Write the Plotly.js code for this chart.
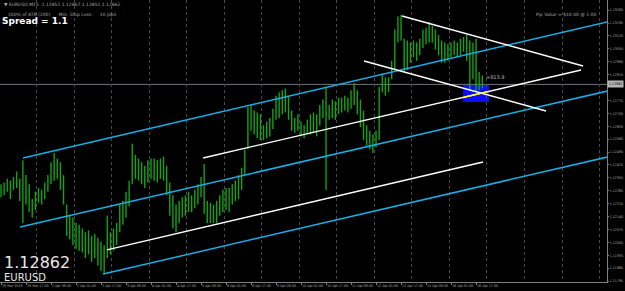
<!DOCTYPE html>
<html><head><meta charset="utf-8">
<script src="https://cdn.plot.ly/plotly-3.0.1.min.js"></script>
<style>html,body{margin:0;padding:0;background:#000;}#c{width:625px;height:291px;}</style>
</head><body><div id="c"></div>
<script>
// ---- data ----
const firstBarHour = 1;      // trading hours since 29 Mar 00:00
const barStepHours = 2;
const highs = [1.1232,1.1233,1.1235,1.1234,1.1236,1.1239,1.1235,1.1245,1.1237,1.1232,
1.1224,1.1228,1.1230,1.1229,1.1233,1.1237,1.1244,1.1249,1.1246,1.1244,
1.1237,1.1221,1.1215,1.1214,1.1211,1.1210,1.1208,1.1206,1.1207,1.1204,
1.1205,1.1203,1.1201,1.1199,1.1215,1.1206,1.1208,1.1211,1.1221,1.1223,
1.1228,1.1234,1.1254,1.1248,1.1246,1.1244,1.1242,1.1245,1.1246,1.1246,
1.1245,1.1246,1.1247,1.1242,1.1233,1.1226,1.1221,1.1223,1.1225,1.1226,
1.1228,1.1226,1.1229,1.1232,1.1236,1.1243,1.1223,1.1222,1.1221,1.1223,
1.1226,1.1229,1.1230,1.1230,1.1232,1.1234,1.1237,1.1241,1.1251,1.1274,
1.1275,1.1272,1.1271,1.1270,1.1264,1.1266,1.1268,1.1273,1.1280,1.1282,
1.1283,1.1284,1.1280,1.1272,1.1268,1.1270,1.1266,1.1264,1.1267,1.1270,
1.1271,1.1270,1.1275,1.1278,1.1285,1.1275,1.1278,1.1277,1.1279,1.1279,
1.1280,1.1279,1.1283,1.1287,1.1283,1.1278,1.1272,1.1264,1.1261,1.1259,
1.1261,1.1285,1.1292,1.1290,1.1290,1.1299,1.1316,1.1323,1.1324,1.1311,
1.1310,1.1309,1.1310,1.1309,1.1311,1.1316,1.1317,1.1320,1.1318,1.1316,
1.1313,1.1310,1.1309,1.1308,1.1309,1.1310,1.1309,1.1311,1.1312,1.1313,
1.1310,1.1309,1.1311,1.1293,1.1291];
const lows = [1.1225,1.1226,1.1228,1.1224,1.1229,1.1230,1.1223,1.1211,1.1221,1.1217,
1.1214,1.1218,1.1222,1.1221,1.1224,1.1228,1.1232,1.1234,1.1235,1.1229,
1.1221,1.1204,1.1202,1.1199,1.1197,1.1196,1.1195,1.1192,1.1194,1.1190,
1.1192,1.1188,1.1185,1.1184,1.1192,1.1194,1.1196,1.1199,1.1206,1.1210,
1.1214,1.1220,1.1232,1.1235,1.1234,1.1232,1.1230,1.1233,1.1235,1.1234,
1.1233,1.1235,1.1234,1.1226,1.1215,1.1208,1.1206,1.1211,1.1214,1.1215,
1.1217,1.1217,1.1219,1.1221,1.1225,1.1216,1.1211,1.1211,1.1211,1.1211,
1.1215,1.1217,1.1218,1.1217,1.1221,1.1223,1.1224,1.1229,1.1237,1.1251,
1.1261,1.1259,1.1257,1.1256,1.1256,1.1257,1.1258,1.1262,1.1267,1.1268,
1.1270,1.1271,1.1267,1.1261,1.1260,1.1261,1.1258,1.1257,1.1259,1.1259,
1.1260,1.1258,1.1264,1.1268,1.1229,1.1267,1.1268,1.1267,1.1270,1.1271,
1.1272,1.1271,1.1273,1.1275,1.1270,1.1263,1.1256,1.1253,1.1251,1.1249,
1.1252,1.1256,1.1282,1.1280,1.1282,1.1289,1.1294,1.1309,1.1310,1.1293,
1.1294,1.1298,1.1301,1.1299,1.1302,1.1306,1.1308,1.1309,1.1309,1.1305,
1.1302,1.1298,1.1298,1.1299,1.1301,1.1302,1.1301,1.1302,1.1304,1.1299,
1.1283,1.1289,1.1282,1.1283,1.1284];
const lastPrice = 1.12862;

const xTickHours = [1,17,33,49,65,81,97,113,129,145,161,177,193,209,225,241,257,273,289,305];
const xTickLabels = ["29 Mar 2019","29 Mar 17:00","1 Apr 09:00","2 Apr 01:00","2 Apr 17:00","3 Apr 09:00",
"4 Apr 01:00","4 Apr 17:00","5 Apr 09:00","8 Apr 01:00","8 Apr 17:00","9 Apr 09:00","10 Apr 01:00",
"10 Apr 17:00","11 Apr 09:00","12 Apr 01:00","12 Apr 17:00","15 Apr 09:00","16 Apr 01:00","16 Apr 17:00"];
const yTicks = [1.11795,1.11865,1.11935,1.12005,1.12075,1.12145,1.12215,1.12285,1.12355,1.12425,
1.12495,1.12565,1.12635,1.12705,1.12775,1.12915,1.12985,1.13055,1.13125,1.13195,1.13265];

// channel lines: [hour0, price0, hour1, price1]
const blueLines = [
  [15.1, 1.12463, 389, 1.13201],
  [13.2, 1.12088, 389, 1.12826],
  [66.3, 1.11833, 389, 1.12468]
];
const whiteLines = [
  [68.8, 1.11964, 309.5, 1.12441],
  [130.3, 1.12463, 372.2, 1.12940],
  [233.3, 1.12989, 349.8, 1.12718],
  [257.6, 1.13233, 373.5, 1.12962]
];
const yellowSeg = [296.7, 1.12791, 313.3, 1.12824];
const boxRange = [296.7, 313.3, 1.12767, 1.12859];
const boxLabel = "+813.9";

// ---- build ----
const bx = [], by = [];
for (let i = 0; i < highs.length; i++) {
  const h = firstBarHour + i * barStepHours;
  bx.push(h, h, null); by.push(lows[i], highs[i], null);
}
const traces = [{
  type: 'scatter', mode: 'lines', x: bx, y: by,
  line: {color: '#13a313', width: 1.4}, hoverinfo: 'skip', connectgaps: false
}];
function seg(s, color, w) {
  return {type: 'scatter', mode: 'lines', x: [s[0], s[2]], y: [s[1], s[3]],
    line: {color: color, width: w}, hoverinfo: 'skip'};
}
blueLines.forEach(s => traces.push(seg(s, '#1aaee8', 1.5)));
whiteLines.forEach(s => traces.push(seg(s, '#ffffff', 1.4)));
traces.push(seg(yellowSeg, '#ffff00', 1.4));

const grayTxt = '#a9a9a9';
const tickFont = {family: 'DejaVu Sans Condensed, Liberation Sans Narrow, DejaVu Sans', size: 3.6, color: grayTxt};
const layout = {
  width: 625, height: 291,
  margin: {l: 0, r: 18, t: 0, b: 9},
  paper_bgcolor: '#000', plot_bgcolor: '#000',
  showlegend: false,
  font: {family: 'DejaVu Sans', size: 4, color: grayTxt},
  xaxis: {
    range: [0.36, 388.8], showgrid: false, zeroline: false,
    tickmode: 'array', tickvals: xTickHours, ticktext: xTickLabels, tickangle: 0,
    ticklabelposition: 'outside right', ticks: 'outside', ticklen: 2, tickcolor: '#808080',
    tickfont: tickFont,
    showline: true, linecolor: '#808080', linewidth: 1,
    minor: {tick0: 0, dtick: 24, showgrid: true, gridcolor: '#484848', griddash: 'dot', gridwidth: 1, ticks: ''}
  },
  yaxis: {
    range: [1.11790, 1.13320], side: 'right', showgrid: false, zeroline: false,
    tickmode: 'array', tickvals: yTicks, tickformat: '.5f',
    ticks: 'outside', ticklen: 1, tickcolor: '#808080',
    tickfont: tickFont,
    showline: true, linecolor: '#808080', linewidth: 1
  },
  shapes: [
    {type: 'rect', xref: 'x', yref: 'y', x0: boxRange[0], x1: boxRange[1], y0: boxRange[2], y1: boxRange[3],
     fillcolor: '#0d0dff', line: {width: 0}, layer: 'below'},
    {type: 'line', xref: 'paper', yref: 'y', x0: 0, x1: 1, y0: lastPrice, y1: lastPrice,
     line: {color: '#6b7680', width: 1}, layer: 'below'}
  ],
  annotations: [
    {xref: 'paper', yref: 'paper', x: 0.003, y: 0.985, xanchor: 'left', yanchor: 'middle', showarrow: false,
     text: '▼ EURUSD,M15  1.12851 1.12867 1.12851 1.12862', font: {size: 4.5, color: grayTxt}},
    {xref: 'paper', yref: 'paper', x: 0.01, y: 0.95, xanchor: 'left', yanchor: 'middle', showarrow: false,
     text: '100% of ATR (200)      Min. Stop Loss:     10 pips', font: {size: 4.5, color: grayTxt}},
    {xref: 'paper', yref: 'paper', x: 0.0, y: 0.925, xanchor: 'left', yanchor: 'middle', showarrow: false,
     text: '<b>Spread = 1.1</b>', font: {size: 9, color: '#ffffff'}},
    {xref: 'paper', yref: 'paper', x: 0.985, y: 0.95, xanchor: 'right', yanchor: 'middle', showarrow: false,
     text: 'Pip Value = $10.00 @ 1.00', font: {size: 4.5, color: grayTxt}},
    {xref: 'x', yref: 'y', x: 310.0, y: 1.1290, xanchor: 'left', yanchor: 'middle', showarrow: false,
     text: boxLabel, font: {size: 5, color: '#b8b8b8'}},
    {xref: 'paper', yref: 'paper', x: 0.003, y: 0.07, xanchor: 'left', yanchor: 'middle', showarrow: false,
     text: lastPrice.toFixed(5), font: {size: 16, color: '#e8e8e8'}},
    {xref: 'paper', yref: 'paper', x: 0.003, y: 0.015, xanchor: 'left', yanchor: 'middle', showarrow: false,
     text: 'EURUSD', font: {size: 10, color: '#e8e8e8'}},
    {xref: 'paper', yref: 'y', x: 1.0, y: lastPrice, xanchor: 'left', yanchor: 'middle', showarrow: false,
     text: lastPrice.toFixed(5), font: {family: tickFont.family, size: 3.6, color: '#000'}, bgcolor: '#b4b4b4', borderpad: 1}
  ]
};
Plotly.newPlot('c', traces, layout, {staticPlot: true, displayModeBar: false});
</script></body></html>
